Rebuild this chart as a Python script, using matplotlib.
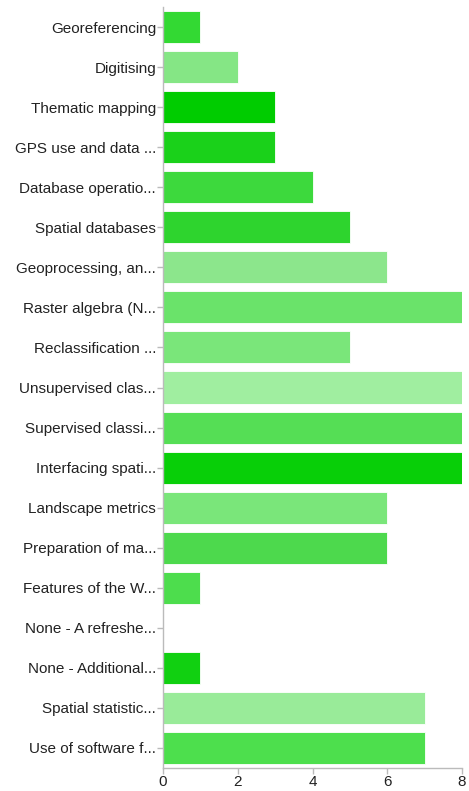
import matplotlib
matplotlib.use("Agg")
import numpy as np
from matplotlib import pyplot as plt

categories = [
    "Georeferencing", "Digitising", "Thematic mapping", "GPS use and data ...",
    "Database operatio...", "Spatial databases", "Geoprocessing, an...",
    "Raster algebra (N...", "Reclassification ...", "Unsupervised clas...",
    "Supervised classi...", "Interfacing spati...", "Landscape metrics",
    "Preparation of ma...", "Features of the W...", "None - A refreshe...",
    "None - Additional...", "Spatial statistic...", "Use of software f...",
]
values = [1, 2, 3, 3, 4, 5, 6, 8, 5, 8, 8, 8, 6, 6, 1, 0, 1, 7, 7]
colors = [
    "#33d933", "#85e685", "#00cc00", "#1ad11a", "#3dd93d", "#2ed42e",
    "#8ce68c", "#6ae36a", "#7ae67a", "#a0eea0", "#55de55", "#08cf08",
    "#7ae67a", "#4dd94d", "#4ddd4d", "#4ddd4d", "#11d011", "#99eb99",
    "#4ddf4d",
]
xticks = [0, 2, 4, 6, 8]

plt.rcParams['font.family'] = ['Liberation Sans', 'DejaVu Sans']

fig = plt.figure(figsize=(4.69, 7.91), dpi=100)
ax = fig.add_axes([163 / 469, 23 / 791, 299 / 469, 761 / 791])

y = np.arange(len(categories))
ax.barh(y, values, height=0.8, color=colors, edgecolor="white", linewidth=0.6)

ax.set_ylim(len(categories) - 0.5, -0.5)
ax.set_xlim(0, 8)
ax.set_yticks(y)
ax.set_yticklabels(categories, fontsize=11, color="#222222")
ax.set_xticks(xticks)
ax.set_xticklabels([str(t) for t in xticks], fontsize=11, color="#222222")

for s in ["top", "right"]:
    ax.spines[s].set_visible(False)
for s in ["left", "bottom"]:
    ax.spines[s].set_color("#bbbbbb")
    ax.spines[s].set_linewidth(1)
ax.tick_params(axis="both", color="#bbbbbb", length=4, width=1)
ax.tick_params(axis="y", pad=1)
ax.tick_params(axis="x", pad=1)

fig.savefig("out.png", dpi=100)
